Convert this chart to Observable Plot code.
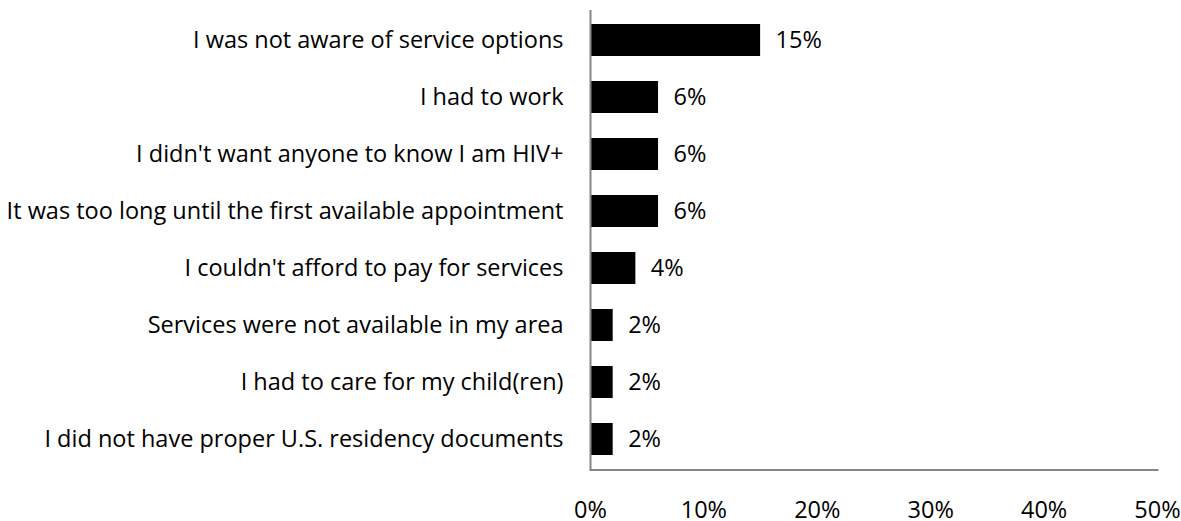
<!DOCTYPE html>
<html>
<head>
<meta charset="utf-8">
<script src="https://cdn.jsdelivr.net/npm/d3@7"></script>
<script src="https://cdn.jsdelivr.net/npm/@observablehq/plot@0.6"></script>
<style>
  html, body { margin: 0; padding: 0; background: #fff; }
</style>
</head>
<body>
<div id="chart"></div>
<script>
const categories = [
  "I was not aware of service options",
  "I had to work",
  "I didn't want anyone to know I am HIV+",
  "It was too long until the first available appointment",
  "I couldn't afford to pay for services",
  "Services were not available in my area",
  "I had to care for my child(ren)",
  "I did not have proper U.S. residency documents"
];
const values = [15, 6, 6, 6, 4, 2, 2, 2];
const xTicks = [0, 10, 20, 30, 40, 50];

const data = categories.map((c, i) => ({category: c, value: values[i]}));
const pct = d => d + "%";
const FS = 23.5;

const chart = Plot.plot({
  width: 1181,
  height: 521,
  marginLeft: 590,
  marginRight: 24,
  marginTop: 10,
  marginBottom: 51.5,
  x: {domain: [0, 50], ticks: xTicks, tickFormat: pct, label: null},
  y: {domain: categories, paddingInner: 0.444, paddingOuter: 0.222, label: null},
  style: {fontFamily: "'Open Sans', sans-serif", fontSize: FS + "px", color: "#000", background: "#fff"},
  marks: [
    Plot.barX(data, {x: "value", y: "category", fill: "#000"}),
    Plot.text(data, {x: "value", y: "category", text: d => pct(d.value), textAnchor: "start", dx: 15, fontSize: FS, fill: "#000"}),
    Plot.ruleX([0], {stroke: "#868686", strokeWidth: 2}),
    Plot.frame({anchor: "bottom", stroke: "#868686", strokeWidth: 2}),
    Plot.axisX({ticks: xTicks, tickFormat: pct, tickSize: 0, tickPadding: 31, fontSize: FS, label: null}),
    Plot.axisY({tickSize: 0, tickPadding: 27, fontSize: FS, label: null})
  ]
});
document.getElementById("chart").appendChild(chart);
</script>
</body>
</html>
